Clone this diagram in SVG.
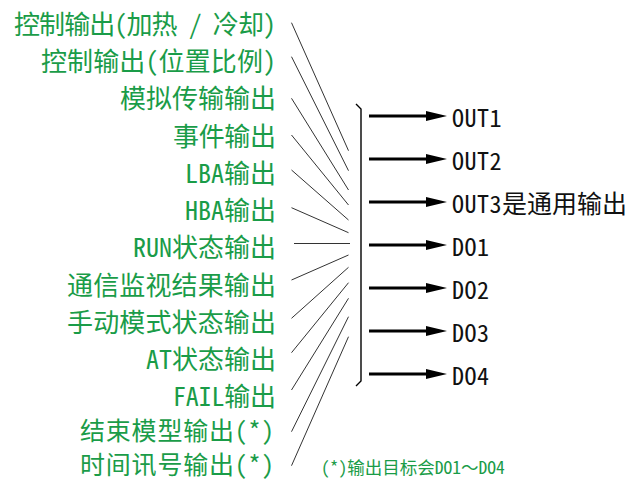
<svg xmlns="http://www.w3.org/2000/svg" width="640" height="481" viewBox="0 0 640 481">
<style>
.lbl{font-family:"Noto Sans CJK SC","Noto Sans CJK JP",sans-serif;font-size:26px;fill:#1a9c48;text-anchor:end;font-feature-settings:"hwid" 1;}
.sm{font-size:25px;}
.out{font-family:"Noto Sans CJK SC","Noto Sans CJK JP",sans-serif;font-size:24px;fill:#111;letter-spacing:0.5px;font-feature-settings:"hwid" 1;}
.cjk{font-size:25px;letter-spacing:0;}
.note{font-family:"Noto Sans CJK SC","Noto Sans CJK JP",sans-serif;font-size:17.5px;fill:#1a9c48;font-feature-settings:"hwid" 1;}
.fw{font-feature-settings:normal;}
.ln{stroke:#333;stroke-width:1;fill:none;}
.arr{stroke:#000;stroke-width:3;fill:none;marker-end:url(#ah);}
.br{stroke:#000;stroke-width:1.4;fill:none;}
</style>
<defs>
<marker id="ah" markerUnits="userSpaceOnUse" markerWidth="22" markerHeight="11" refX="1" refY="5" orient="auto">
<path d="M0,0 L21,5 L0,10 z" fill="#000"/>
</marker>
</defs>
<g id="labels">
<g id="n1"><text class="lbl" x="276" y="34" textLength="262">控制输出(加热 / 冷却)</text></g>
<g id="n2"><text class="lbl" x="276" y="71" textLength="235">控制输出(位置比例)</text></g>
<g id="n3"><text class="lbl" x="276" y="108" textLength="156">模拟传输输出</text></g>
<g id="n4"><text class="lbl" x="276" y="145.5" textLength="103">事件输出</text></g>
<g id="n5"><text class="lbl" x="276" y="183" textLength="91">LBA输出</text></g>
<g id="n6"><text class="lbl" x="276" y="220" textLength="91">HBA输出</text></g>
<g id="n7"><text class="lbl" x="276" y="257" textLength="143">RUN状态输出</text></g>
<g id="n8"><text class="lbl" x="276" y="294.5" textLength="209">通信监视结果输出</text></g>
<g id="n9"><text class="lbl" x="276" y="331.5" textLength="209">手动模式状态输出</text></g>
<g id="n10"><text class="lbl" x="276" y="369" textLength="130">AT状态输出</text></g>
<g id="n11"><text class="lbl" x="276" y="406" textLength="103">FAIL输出</text></g>
<g id="n12"><text class="lbl sm" x="274" y="440" textLength="194">结束模型输出(*)</text></g>
<g id="n13"><text class="lbl sm" x="274" y="474" textLength="194">时间讯号输出(*)</text></g>
</g>
<g id="connectors">
<line class="ln" x1="291.5" y1="22.7" x2="348.5" y2="150.7"/>
<line class="ln" x1="291.5" y1="56.7" x2="348.5" y2="170.7"/>
<line class="ln" x1="291.5" y1="98.3" x2="348.5" y2="190"/>
<line class="ln" x1="291.5" y1="135" x2="348.5" y2="205"/>
<line class="ln" x1="291.5" y1="170" x2="348.5" y2="220"/>
<line class="ln" x1="291.5" y1="207.7" x2="348.5" y2="232.7"/>
<line class="ln" x1="294" y1="243.5" x2="350" y2="243.5"/>
<line class="ln" x1="291.5" y1="280" x2="348.5" y2="255"/>
<line class="ln" x1="291.5" y1="318.3" x2="348.5" y2="267.3"/>
<line class="ln" x1="291.5" y1="352.7" x2="348.5" y2="282.7"/>
<line class="ln" x1="291.5" y1="390" x2="348.5" y2="298.3"/>
<line class="ln" x1="291.5" y1="431.7" x2="348.5" y2="316.7"/>
<line class="ln" x1="291.5" y1="465.7" x2="348.5" y2="336.7"/>
<path class="br" d="M356,104 L361,109 L361,381 L356,386"/>
<line class="arr" x1="369" y1="116" x2="427" y2="116"/>
<line class="arr" x1="369" y1="159" x2="427" y2="159"/>
<line class="arr" x1="369" y1="202" x2="427" y2="202"/>
<line class="arr" x1="369" y1="245" x2="427" y2="245"/>
<line class="arr" x1="369" y1="288" x2="427" y2="288"/>
<line class="arr" x1="369" y1="331" x2="427" y2="331"/>
<line class="arr" x1="369" y1="374" x2="427" y2="374"/>
</g>
<g id="outputs">
<g id="o1"><text class="out" x="452" y="127">OUT1</text></g>
<g id="o2"><text class="out" x="452" y="170">OUT2</text></g>
<g id="o3"><text class="out" x="452" y="213">OUT3<tspan class="cjk">是通用输出</tspan></text></g>
<g id="o4"><text class="out" x="452" y="256">DO1</text></g>
<g id="o5"><text class="out" x="452" y="299">DO2</text></g>
<g id="o6"><text class="out" x="452" y="342">DO3</text></g>
<g id="o7"><text class="out" x="452" y="385">DO4</text></g>
</g>
<g id="note"><text class="note" x="321" y="474">(*)输出目标会DO1<tspan class="fw">〜</tspan>DO4</text></g>
</svg>
